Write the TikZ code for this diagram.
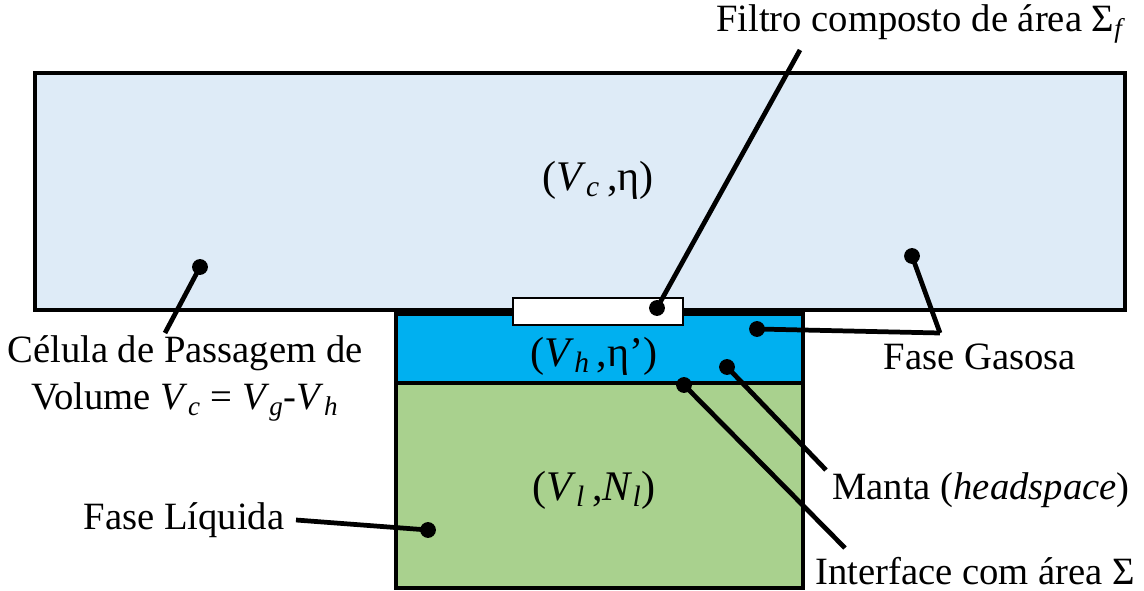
\documentclass[tikz,border=0pt]{standalone}
\usepackage{fontspec}
\setmainfont{Liberation Serif}
\usetikzlibrary{positioning}
\definecolor{cellblue}{HTML}{DEEBF7}
\definecolor{headblue}{HTML}{00B0F0}
\definecolor{liqgreen}{HTML}{A9D18E}
\newcommand{\vsub}[2]{\textit{#1}\textsubscript{\textit{#2}}}

\begin{document}
\begin{tikzpicture}[x=0.02cm, y=-0.02cm,
          box/.style={draw=black, line width=2.7pt},
          lbl/.style={font=\fontsize{22}{27}\selectfont, align=center, inner sep=0pt},
          inlbl/.style={font=\fontsize{24}{28}\selectfont, inner sep=0pt},
          dot/.style={circle, fill=black, inner sep=0pt, minimum size=9pt},
          lead/.style={line width=2.7pt, black}]
        \useasboundingbox (0,0) rectangle (1144,591);
        % recipients
        \draw[box, fill=cellblue] (35,73) rectangle (1125,310);
        \draw[box, fill=liqgreen] (396,383) rectangle (803,588);
        \draw[box, fill=headblue] (396,314) rectangle (803,383);
        \draw[fill=white, line width=0.8pt] (513,298) rectangle (683,325);
        % labels inside
        \node[inlbl] (vc) at (598,180) {(\vsub{V}{c}\,,η)};
        \node[inlbl] (vh) at (594,356) {(\vsub{V}{h}\,,η’)};
        \node[inlbl] (vl) at (594,490) {(\vsub{V}{l}\,,\vsub{N}{l})};
        % outside labels
        \node[lbl] (filtro) at (921,24) {Filtro composto de área Σ\textsubscript{\textit{f}}};
        \node[lbl] (celula) at (185,378) {Célula de Passagem de\\Volume \vsub{V}{c} = \vsub{V}{g}-\vsub{V}{h}};
        \node[lbl] (gasosa) at (980,357) {Fase Gasosa};
        \node[lbl] (manta) at (981,490) {Manta (\textit{headspace})};
        \node[lbl] (interf) at (975,571) {Interface com área Σ};
        \node[lbl] (liquida) at (184,520) {Fase Líquida};
        % dots
        \node[dot] (dfil) at (657,308) {};
        \node[dot] (dcel) at (200,267) {};
        \node[dot] (dgas) at (912,256) {};
        \node[dot] (dhead) at (757,329) {};
        \node[dot] (dmanta) at (727,367) {};
        \node[dot] (dint) at (684,385) {};
        \node[dot] (dliq) at (428,530) {};
        % leader ends
        \coordinate (efil) at (800,50);
        \coordinate (ecel) at (165,333);
        \coordinate (egas) at (940,333);
        \coordinate (emanta) at (826,470);
        \coordinate (eint) at (845,548);
        \coordinate (eliq) at (296,520);
        \draw[lead] (dfil.center) -- (efil);
        \draw[lead] (dcel.center) -- (ecel);
        \draw[lead] (dgas.center) -- (egas);
        \draw[lead] (dhead.center) -- (egas);
        \draw[lead] (dmanta.center) -- (emanta);
        \draw[lead] (dint.center) -- (eint);
        \draw[lead] (dliq.center) -- (eliq);
      \end{tikzpicture}
\end{document}
